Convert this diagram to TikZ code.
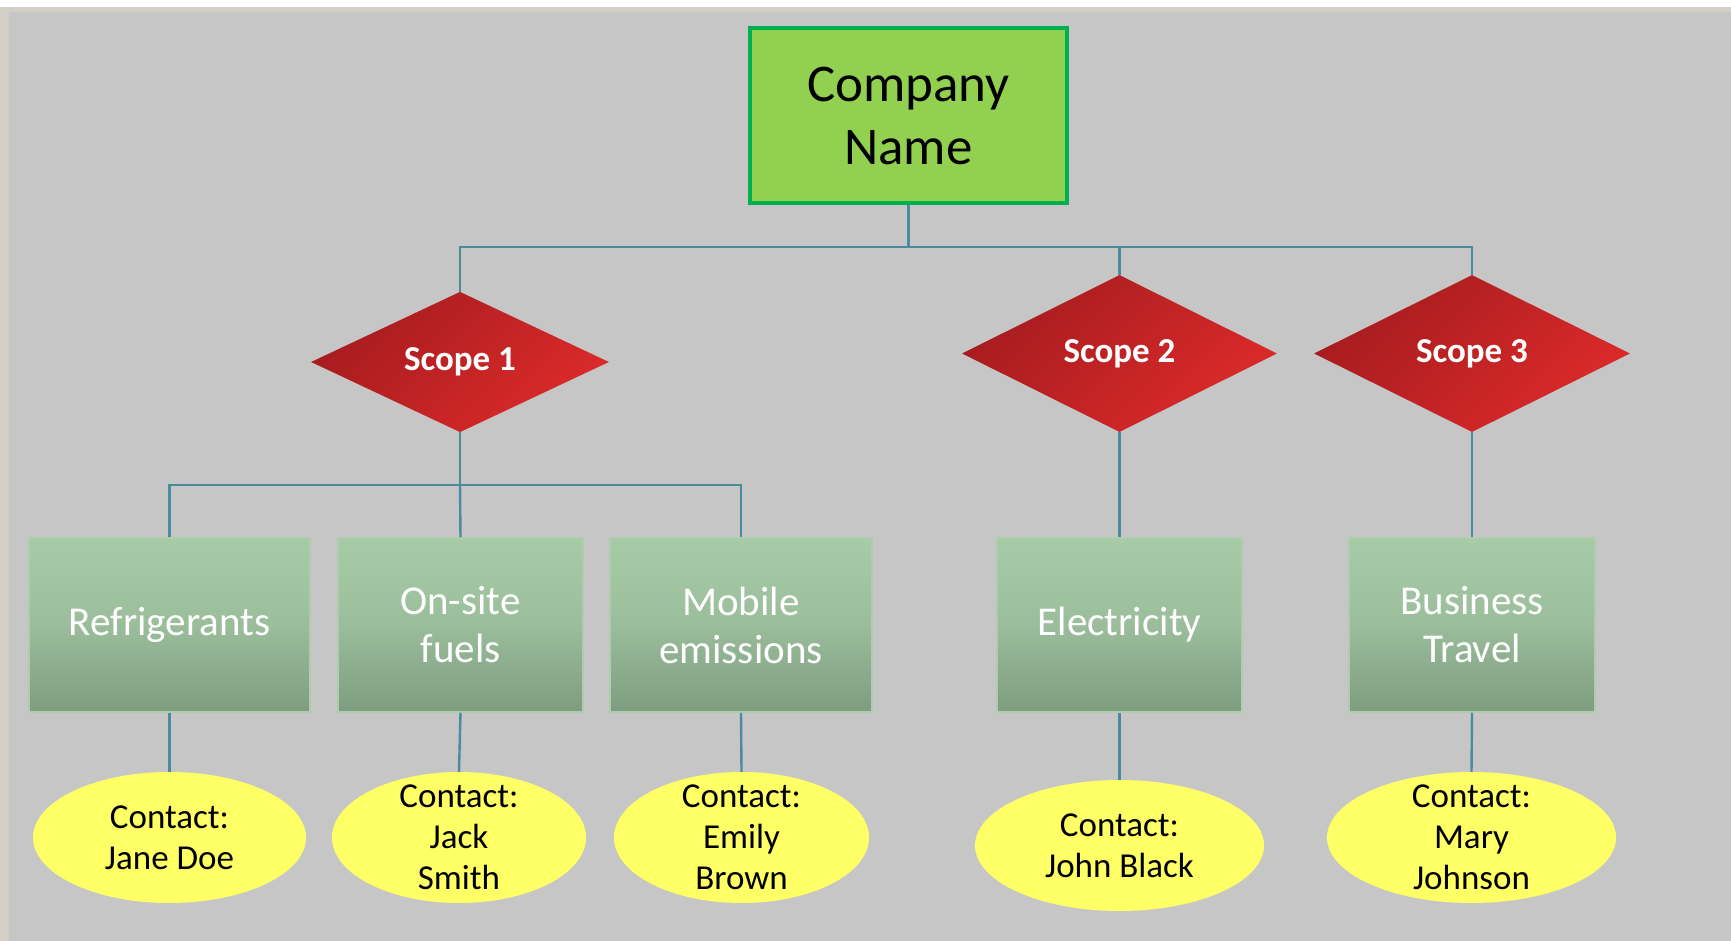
\documentclass[tikz,border=0pt]{standalone}
\usepackage{fontspec}
\setmainfont{Carlito}
\usetikzlibrary{shapes.geometric}
\definecolor{bgray}{HTML}{C6C6C6}
\definecolor{edgebeige}{HTML}{D2CFC7}
\definecolor{compfill}{HTML}{92D050}
\definecolor{compdraw}{HTML}{00B050}
\definecolor{reddark}{HTML}{A61C1F}
\definecolor{redlight}{HTML}{DC2A2A}
\definecolor{gtop}{HTML}{A7CBA7}
\definecolor{gmid}{HTML}{9BBD9B}
\definecolor{gbot}{HTML}{7E9D80}
\definecolor{gedge}{HTML}{AECDAE}
\definecolor{yell}{HTML}{FFFF66}
\definecolor{connc}{HTML}{4A8C9C}
\tikzset{
  company/.style={rectangle, draw=compdraw, fill=compfill, line width=4pt,
    minimum width=317pt, minimum height=175pt, align=center,
    font=\fontsize{53}{63}\selectfont, text=black},
  scopebox/.style={diamond, inner sep=0pt, top color=reddark, bottom color=redlight,
    shading angle=45, text=white, font=\fontsize{35}{41}\selectfont\bfseries},
  catbox/.style={rectangle, draw=gedge, line width=1.5pt, top color=gtop, bottom color=gbot,
    middle color=gmid, minimum height=174pt, align=center, text=white,
    font=\fontsize{41}{48}\selectfont},
  contactshape/.style={ellipse, fill=yell, inner sep=0pt, minimum height=131pt},
  contacttext/.style={align=center, text=black, font=\fontsize{35}{41}\selectfont, inner sep=0pt},
  conn/.style={draw=connc, line width=2.4pt}
}
\begin{document}
\begin{tikzpicture}[x=1pt,y=-1pt]
\useasboundingbox (0,0) rectangle (1731,941);
\fill[white] (0,0) rectangle (1731,941);
\fill[edgebeige] (0,7) rectangle (1731,941);
\fill[bgray] (9,12) rectangle (1731,941);

% top
\node[company] (company) at (908.5,115.5) {Company\\Name};

% scopes
\node[scopebox, minimum width=298pt, minimum height=140pt] (s1) at (460,362) {Scope 1};
\node[scopebox, minimum width=315pt, minimum height=157pt] (s2) at (1119.5,353.5) {Scope 2};
\node[scopebox, minimum width=316pt, minimum height=157pt] (s3) at (1472,353.5) {Scope 3};

% categories
\node[catbox, minimum width=281pt] (ref) at (169.5,625) {Refrigerants};
\node[catbox, minimum width=245pt] (ons) at (460.5,625) {On-site\\fuels};
\node[catbox, minimum width=262pt] (mob) at (741,625) {Mobile\\emissions};
\node[catbox, minimum width=245pt] (ele) at (1119.5,625) {Electricity};
\node[catbox, minimum width=246pt] (bus) at (1472,625) {Business\\Travel};

% contacts
\node[contactshape, minimum width=273pt] (c1) at (169.5,837.5) {};
\node[contacttext] (c1t) at (c1.center) {Contact:\\Jane Doe};
\node[contactshape, minimum width=254pt] (c2) at (459,837.5) {};
\node[contacttext] (c2t) at (c2.center) {Contact:\\Jack\\Smith};
\node[contactshape, minimum width=255pt] (c3) at (741.5,837.5) {};
\node[contacttext] (c3t) at (c3.center) {Contact:\\Emily\\Brown};
\node[contactshape, minimum width=289pt] (c4) at (1119.5,845.5) {};
\node[contacttext] (c4t) at (c4.center) {Contact:\\John Black};
\node[contactshape, minimum width=289pt] (c5) at (1471.5,837.5) {};
\node[contacttext] (c5t) at (c5.center) {Contact:\\Mary\\Johnson};

% connectors
\coordinate (b0) at (908.5,247);
\coordinate (b1) at (460,485);
\draw[conn] (company.south) -- (b0);
\draw[conn] (b0) -| (s1.north);
\draw[conn] (b0) -| (s3.north);
\draw[conn] (s2.north) -- (s2.north |- b0);
\draw[conn] (s1.south) -- (b1);
\draw[conn] (b1) -| (ref.north);
\draw[conn] (b1) -| (mob.north);
\draw[conn] (b1) -- (ons.north);
\draw[conn] (s2.south) -- (ele.north);
\draw[conn] (s3.south) -- (bus.north);
\draw[conn] (ref.south) -- (c1.north);
\draw[conn] (ons.south) -- (c2.north);
\draw[conn] (mob.south) -- (c3.north);
\draw[conn] (ele.south) -- (c4.north);
\draw[conn] (bus.south) -- (c5.north);
\end{tikzpicture}
\end{document}
